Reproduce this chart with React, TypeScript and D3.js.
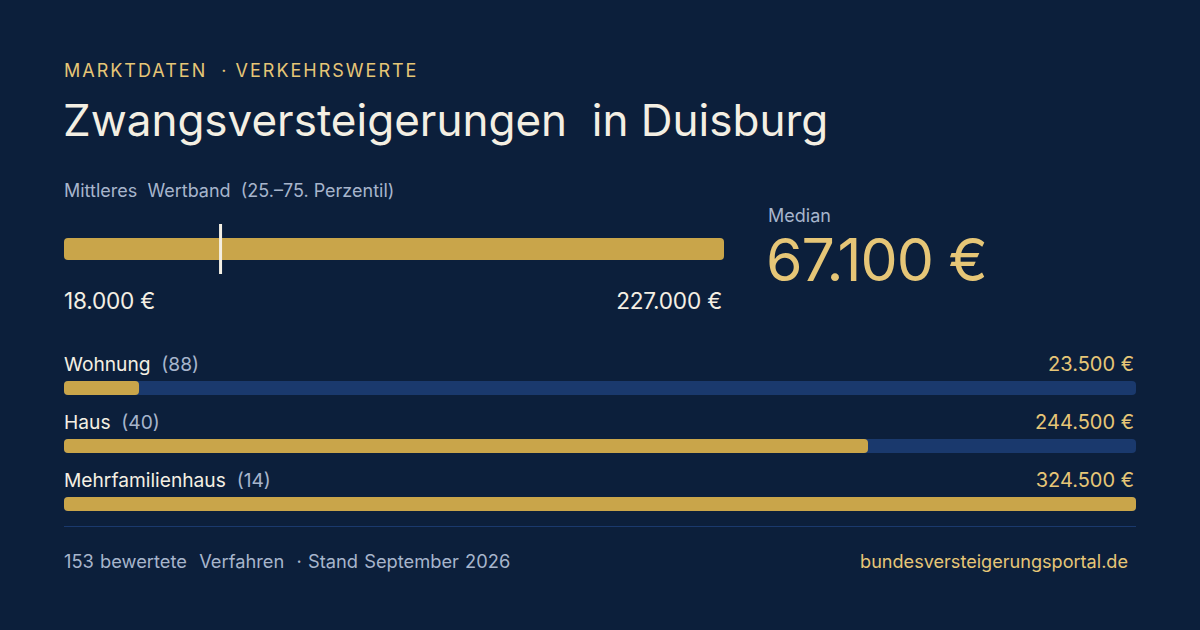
import React from "react";
import * as d3 from "d3";

const bandLow = 18000;
const bandHigh = 227000;
const median = 67100;

const categories = ["Wohnung", "Haus", "Mehrfamilienhaus"];
const counts = [88, 40, 14];
const values = [23500, 244500, 324500];

const kicker = "MARKTDATEN  · VERKEHRSWERTE";
const title = "Zwangsversteigerungen  in Duisburg";
const bandTitle = "Mittleres  Wertband  (25.–75. Perzentil)";
const footerLeft = "153 bewertete  Verfahren  · Stand September 2026";
const footerRight = "bundesversteigerungsportal.de";

const fmt = (v: number) => d3.format(",")(v).replace(/,/g, ".") + " €";

const BG = "#0c1f3b";
const GOLD = "#c9a54a";
const GOLD_TEXT = "#e6c677";
const CREAM = "#f4efe3";
const MUTED = "#a7b5cc";
const TRACK = "#1a396d";

export default function App() {
  const W = 1200, H = 630;
  const xBand = d3.scaleLinear().domain([bandLow, bandHigh]).range([64, 724]);
  const maxV = d3.max(values) as number;
  const xPct = d3.scaleLinear().domain([0, 100]).range([64, 1136]);
  const rowY = d3.scalePoint<string>().domain(categories).range([381, 497]);
  const font = "Inter, 'Noto Sans', sans-serif";

  return (
    <div style={{ position: "fixed", left: 0, top: 0, width: W, height: H }}>
      <svg width={W} height={H} style={{ display: "block", fontFamily: font }}>
        <rect x={0} y={0} width={W} height={H} fill={BG} />
        <text x={64} y={77} fill={GOLD_TEXT} fontSize={18} letterSpacing={2} style={{ whiteSpace: "pre" }}>{kicker}</text>
        <text x={63} y={136} fill={CREAM} fontSize={44} style={{ whiteSpace: "pre" }}>{title}</text>
        <text x={64} y={197} fill={MUTED} fontSize={18} style={{ whiteSpace: "pre" }}>{bandTitle}</text>

        <rect x={xBand(bandLow)} y={238} width={xBand(bandHigh) - xBand(bandLow)} height={22} rx={4} fill={GOLD} />
        <rect x={xBand(median)} y={224} width={3} height={50} fill={CREAM} />
        <text x={xBand(bandLow)} y={309} fill={CREAM} fontSize={22.6} letterSpacing={-0.2}>{fmt(bandLow)}</text>
        <text x={xBand(bandHigh) - 2} y={309} fill={CREAM} fontSize={22.6} letterSpacing={-0.2} textAnchor="end">{fmt(bandHigh)}</text>

        <text x={768} y={222} fill={MUTED} fontSize={18}>Median</text>
        <text x={766} y={281} fill={GOLD_TEXT} fontSize={59} letterSpacing={-1}>{fmt(median)}</text>

        {categories.map((c, i) => {
          const y = rowY(c) as number;
          const pct = Math.round((values[i] / maxV) * 100);
          return (
            <g key={c}>
              <text x={64} y={y - 10} fontSize={19.2} style={{ whiteSpace: "pre" }}>
                <tspan fill={CREAM}>{c}</tspan>
                <tspan fill={MUTED}>{"  (" + counts[i] + ")"}</tspan>
              </text>
              <text x={1134} y={y - 10} fontSize={20} fill={GOLD_TEXT} textAnchor="end">{fmt(values[i])}</text>
              <rect x={64} y={y} width={1072} height={14} rx={4} fill={TRACK} />
              <rect x={64} y={y} width={xPct(pct) - 64} height={14} rx={4} fill={GOLD} />
            </g>
          );
        })}

        <line x1={64} x2={1136} y1={526.5} y2={526.5} stroke={TRACK} strokeWidth={1} />
        <text x={64} y={568} fill={MUTED} fontSize={18.3} wordSpacing={1} style={{ whiteSpace: "pre" }}>{footerLeft}</text>
        <text x={1128} y={568} fill={GOLD_TEXT} fontSize={18.1} textAnchor="end">{footerRight}</text>
      </svg>
    </div>
  );
}
